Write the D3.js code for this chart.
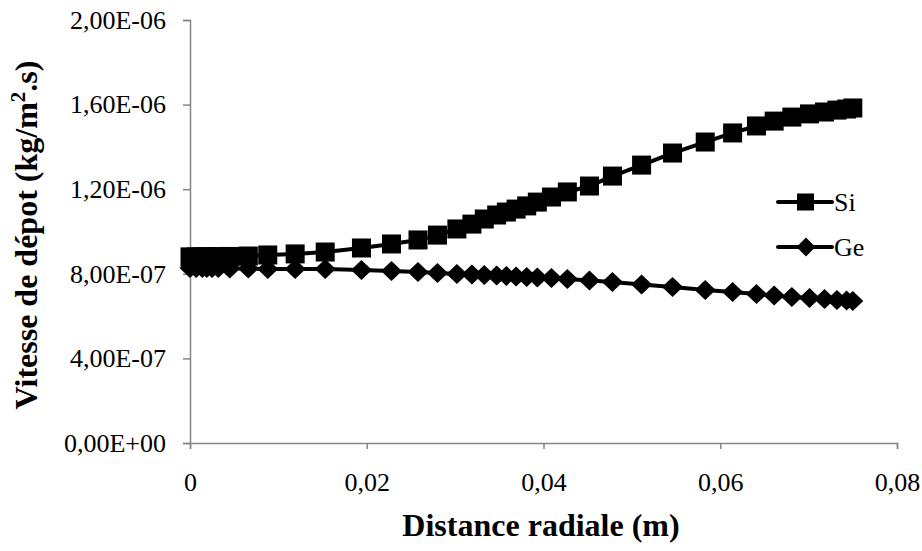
<!DOCTYPE html>
<html>
<head>
<meta charset="utf-8">
<script src="https://cdn.jsdelivr.net/npm/d3@7"></script>
<style>
  html, body { margin: 0; padding: 0; background: #fff; }
  svg { display: block; }
  text { font-family: "Liberation Serif", "Times New Roman", serif; fill: #000; }
</style>
</head>
<body>
<svg id="chart" width="922" height="551"></svg>
<script>
// ---- data ----
const radialDistance = [0, 0.0007, 0.0014, 0.0019, 0.0025, 0.0032, 0.0045, 0.0066, 0.0088, 0.0119,
  0.0153, 0.0194, 0.0228, 0.0258, 0.0280, 0.0302, 0.0319, 0.0333, 0.0347, 0.0358,
  0.0369, 0.0381, 0.0393, 0.0409, 0.0427, 0.0452, 0.0478, 0.0511, 0.0546, 0.0583,
  0.0614, 0.0641, 0.0661, 0.0681, 0.0701, 0.0718, 0.0732, 0.0743, 0.0750];
const siValues = [8.80e-7, 8.80e-7, 8.80e-7, 8.80e-7, 8.81e-7, 8.81e-7, 8.82e-7, 8.84e-7, 8.89e-7, 8.94e-7,
  9.03e-7, 9.22e-7, 9.41e-7, 9.60e-7, 9.83e-7, 1.012e-6, 1.035e-6, 1.059e-6, 1.078e-6, 1.092e-6,
  1.106e-6, 1.121e-6, 1.139e-6, 1.163e-6, 1.187e-6, 1.215e-6, 1.262e-6, 1.314e-6, 1.371e-6, 1.423e-6,
  1.466e-6, 1.499e-6, 1.522e-6, 1.541e-6, 1.556e-6, 1.565e-6, 1.574e-6, 1.579e-6, 1.584e-6];
const geValues = [8.27e-7, 8.27e-7, 8.27e-7, 8.27e-7, 8.27e-7, 8.27e-7, 8.25e-7, 8.25e-7, 8.23e-7, 8.23e-7,
  8.23e-7, 8.18e-7, 8.13e-7, 8.09e-7, 8.04e-7, 7.99e-7, 7.97e-7, 7.94e-7, 7.92e-7, 7.90e-7,
  7.87e-7, 7.85e-7, 7.83e-7, 7.80e-7, 7.75e-7, 7.68e-7, 7.61e-7, 7.49e-7, 7.38e-7, 7.23e-7,
  7.14e-7, 7.04e-7, 6.97e-7, 6.90e-7, 6.86e-7, 6.81e-7, 6.76e-7, 6.74e-7, 6.71e-7];
const seriesNames = ["Si", "Ge"];
const xTickValues = [0, 0.02, 0.04, 0.06, 0.08];
const xTickLabels = ["0", "0,02", "0,04", "0,06", "0,08"];
const yTickValues = [0, 4e-7, 8e-7, 1.2e-6, 1.6e-6, 2e-6];
const yTickLabels = ["0,00E+00", "4,00E-07", "8,00E-07", "1,20E-06", "1,60E-06", "2,00E-06"];
const xTitle = "Distance radiale (m)";

// ---- layout ----
const svg = d3.select("#chart");
const x = d3.scaleLinear().domain([0, 0.08]).range([190, 897]);
const y = d3.scaleLinear().domain([0, 2e-6]).range([443, 20]);
const axisColor = "#868686";
const serif = '"Liberation Serif", "Times New Roman", serif';

// axes
const xAxis = svg.append("g").attr("transform", `translate(0,${y(0)})`)
  .call(d3.axisBottom(x).tickValues(xTickValues).tickSize(6).tickPadding(24)
    .tickFormat((d, i) => xTickLabels[i]));
const yAxis = svg.append("g").attr("transform", `translate(${x(0)},0)`)
  .call(d3.axisLeft(y).tickValues(yTickValues).tickSize(7).tickPadding(17)
    .tickFormat((d, i) => yTickLabels[i]));
[xAxis, yAxis].forEach(g => {
  g.attr("font-family", serif);
  g.select(".domain").attr("stroke", axisColor).attr("stroke-width", 1.5);
  g.selectAll(".tick line").attr("stroke", axisColor).attr("stroke-width", 1.5);
  g.selectAll(".tick text").attr("fill", "#000")
    .style("font-family", serif).style("font-size", "26px");
});

// diamond path
function diamond(hw, hh) {
  return `M0,${-hh}L${hw},0L0,${hh}L${-hw},0Z`;
}

const line = d3.line().x(d => x(d[0])).y(d => y(d[1]));
const siData = radialDistance.map((d, i) => [d, siValues[i]]);
const geData = radialDistance.map((d, i) => [d, geValues[i]]);

function drawSeries(data, kind) {
  svg.append("path").datum(data).attr("d", line)
    .attr("fill", "none").attr("stroke", "#000").attr("stroke-width", 4);
  const g = svg.append("g");
  if (kind === "square") {
    g.selectAll("rect").data(data).join("rect")
      .attr("x", d => x(d[0]) - 9.5).attr("y", d => y(d[1]) - 9.5)
      .attr("width", 19).attr("height", 19).attr("fill", "#000");
  } else {
    g.selectAll("path").data(data).join("path")
      .attr("transform", d => `translate(${x(d[0])},${y(d[1])})`)
      .attr("d", diamond(10.5, 10)).attr("fill", "#000");
  }
}
drawSeries(geData, "diamond");
drawSeries(siData, "square");

// legend
const legendRows = [
  { name: seriesNames[0], kind: "square", cy: 202 },
  { name: seriesNames[1], kind: "diamond", cy: 247 }
];
legendRows.forEach(r => {
  const g = svg.append("g");
  g.append("line").attr("x1", 778).attr("x2", 832).attr("y1", r.cy).attr("y2", r.cy)
    .attr("stroke", "#000").attr("stroke-width", 4).attr("stroke-linecap", "round");
  if (r.kind === "square") {
    g.append("rect").attr("x", 797).attr("y", r.cy - 8.5).attr("width", 17).attr("height", 17).attr("fill", "#000");
  } else {
    g.append("path").attr("transform", `translate(806,${r.cy})`).attr("d", diamond(9.5, 9.5)).attr("fill", "#000");
  }
  g.append("text").attr("x", 834).attr("y", r.cy + 9).style("font-family", serif)
    .style("font-size", "26px").text(r.name);
});

// titles
svg.append("text").attr("x", 541).attr("y", 536).attr("text-anchor", "middle")
  .style("font-family", serif).style("font-size", "32px").style("font-weight", "bold").text(xTitle);

const yt = svg.append("text").attr("transform", "translate(37,235) rotate(-90)")
  .attr("text-anchor", "middle").style("font-family", serif)
  .style("font-size", "32px").style("font-weight", "bold");
yt.append("tspan").text("Vitesse de dépot (kg/m");
yt.append("tspan").attr("dy", -12).style("font-size", "21px").text("2");
yt.append("tspan").attr("dy", 12).text(".s)");
</script>
</body>
</html>
